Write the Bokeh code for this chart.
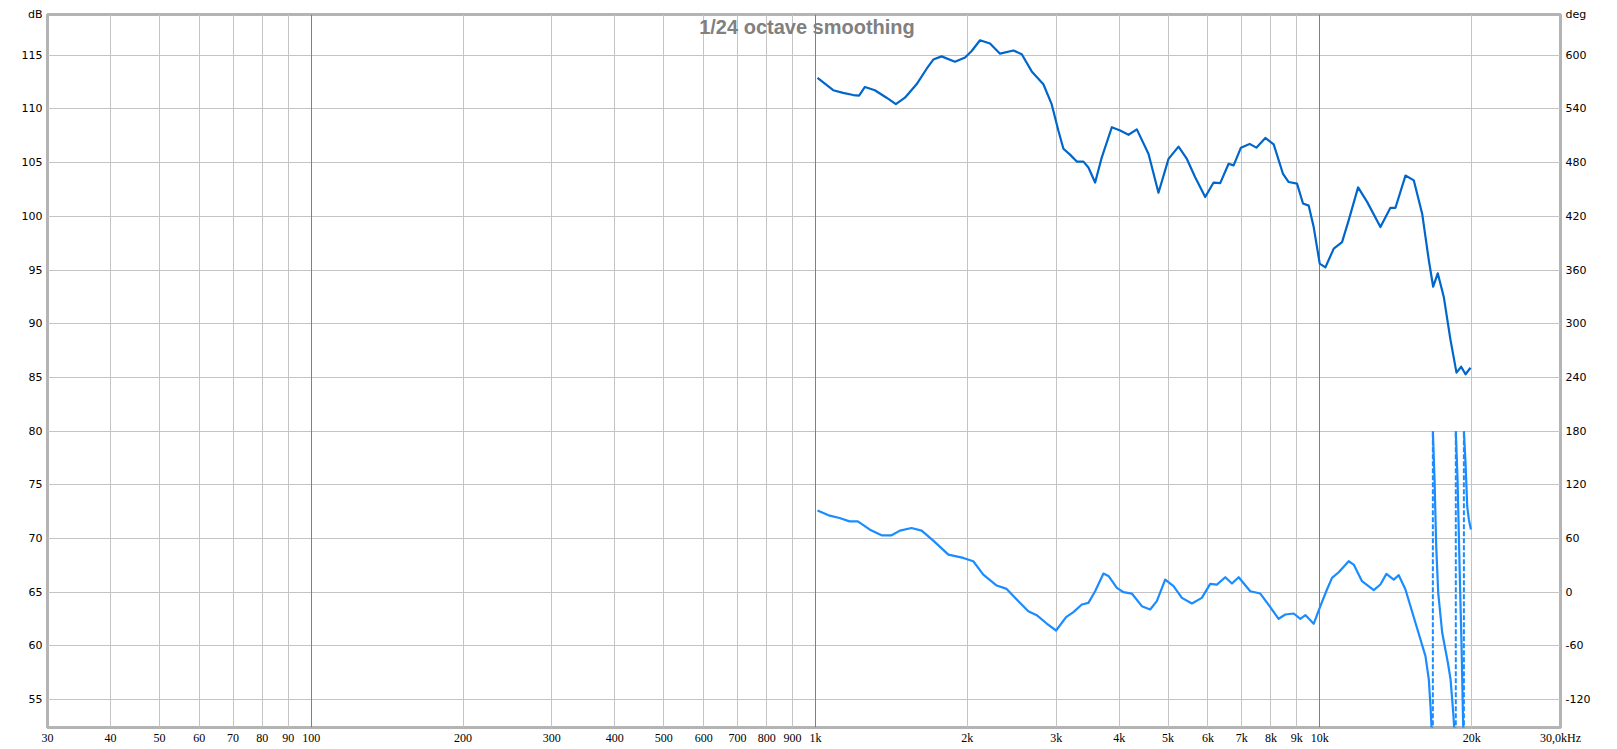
import numpy as np
from bokeh.plotting import figure
from bokeh.models import Range1d, LinearAxis, FixedTicker, Grid, Label
from bokeh.embed import file_html
from bokeh.resources import INLINE

# ---------------- data ----------------
mag_freq = [1009, 1084, 1134, 1188, 1220, 1253, 1311, 1383, 1443, 1504, 1586, 1661, 1712,
            1778, 1890, 1979, 2040, 2119, 2218, 2322, 2468, 2564, 2683, 2830, 2939, 3030,
            3101, 3196, 3296, 3398, 3476, 3584, 3695, 3868, 4018, 4174, 4336, 4574, 4786,
            5011, 5245, 5449, 5659, 5925, 6155, 6345, 6592, 6745, 6974, 7256, 7482, 7796,
            8099, 8452, 8673, 9009, 9259, 9503, 9722, 9993, 10255, 10654, 11066, 11408,
            11906, 12408, 13184, 13801, 14122, 14782, 15357, 15953, 16445, 16775, 17130,
            17607, 18155, 18659, 19063, 19445, 19893]
mag_db = [112.9, 111.75, 111.5, 111.3, 111.25, 112.05, 111.75, 111.05, 110.45, 111.05, 112.3,
          113.75, 114.6, 114.9, 114.4, 114.8, 115.4, 116.4, 116.1, 115.15, 115.45, 115.1,
          113.5, 112.3, 110.45, 108.0, 106.3, 105.75, 105.1, 105.1, 104.55, 103.15, 105.5,
          108.3, 108.0, 107.6, 108.1, 105.8, 102.2, 105.35, 106.5, 105.35, 103.65, 101.8,
          103.15, 103.1, 104.9, 104.75, 106.4, 106.75, 106.4, 107.3, 106.7, 103.95, 103.2,
          103.05, 101.2, 101.0, 99.0, 95.6, 95.25, 97.0, 97.6, 99.65, 102.7, 101.35, 99.0,
          100.8, 100.8, 103.8, 103.35, 100.25, 95.9, 93.45, 94.7, 92.5, 88.5, 85.45, 86.0,
          85.3, 85.9]

phase_freq = [1009, 1067, 1116, 1168, 1213, 1282, 1352, 1415, 1470, 1550, 1623, 1712, 1834,
              1963, 2055, 2151, 2287, 2393, 2525, 2642, 2745, 2873, 2999, 3139, 3246, 3373,
              3476, 3584, 3723, 3815, 3958, 4080, 4238, 4436, 4608, 4750, 4935, 5127, 5326,
              5575, 5834, 6061, 6249, 6493, 6694, 6902, 7278, 7619, 7974, 8283, 8541, 8872,
              9147, 9359, 9721, 10021, 10330, 10570, 10897, 11407, 11671, 12121, 12790,
              13183, 13549, 14012, 14336, 14781, 15470, 16194, 16443, 16570, 16751, 16880,
              17009, 17165, 17481, 17940, 18160, 18383, 18600, 18750, 18950, 19095, 19212,
              19300, 19447, 19596, 19746, 19928]
phase_deg_unwrapped = [91.4, 85.5, 82.9, 79.2, 79.2, 69.9, 63.6, 63.6, 68.8, 71.7, 68.8, 57.6,
                       42.0, 38.3, 34.6, 19.7, 7.4, 3.7, -10.0, -21.2, -25.7, -35.0, -42.8,
                       -27.9, -22.3, -13.8, -11.9, 1.1, 20.8, 17.8, 4.8, 0.0, -1.5, -15.6,
                       -19.3, -10.0, 14.1, 6.7, -6.3, -12.6, -6.3, 9.3, 8.5, 16.7, 9.7, 16.7,
                       1.1, -1.5, -16.7, -29.7, -24.9, -23.8, -29.7, -25.6, -35.3, -15.6, 3.0,
                       16.0, 22.3, 34.6, 30.9, 12.3, 2.3, 8.6, 20.5, 14.1, 19.0, 3.0, -34.2,
                       -71.4, -97.4, -127.0, -180.0, -234.3, -308.7, -360.7, -405.3, -438.8,
                       -457.4, -494.6, -540.0, -594.3, -705.8, -780.0, -854.6, -900.0, -936.0,
                       -984.0, -999.0, -1010.0]

x_ticks = [30, 40, 50, 60, 70, 80, 90, 100, 200, 300, 400, 500, 600, 700, 800, 900,
           1000, 2000, 3000, 4000, 5000, 6000, 7000, 8000, 9000, 10000, 20000, 30000]
x_tick_labels = ["30", "40", "50", "60", "70", "80", "90", "100", "200", "300", "400", "500",
                 "600", "700", "800", "900", "1k", "2k", "3k", "4k", "5k", "6k", "7k", "8k",
                 "9k", "10k", "20k", "30,0kHz"]
x_decade_lines = [100, 1000, 10000]
db_ticks = [55, 60, 65, 70, 75, 80, 85, 90, 95, 100, 105, 110, 115]
deg_ticks = [-120, -60, 0, 60, 120, 180, 240, 300, 360, 420, 480, 540, 600]
title_text = "1/24 octave smoothing"
left_unit = "dB"
right_unit = "deg"

# ---------------- figure ----------------
DB_LO, DB_HI = 52.4, 118.8
F_LO, F_HI = 30, 30000
DEG_LO, DEG_HI = 12.0 * (DB_LO - 65.0), 12.0 * (DB_HI - 65.0)

W, H = 1610, 747
p = figure(width=W, height=H, x_axis_type="log", x_range=(F_LO, F_HI),
           y_range=(DB_LO, DB_HI), output_backend="svg", toolbar_location=None,
           min_border_left=47, min_border_right=W - 1560, min_border_top=14,
           min_border_bottom=H - 727)
p.background_fill_color = "white"
p.border_fill_color = "white"
p.outline_line_color = "#b4b4b4"
p.outline_line_width = 3

p.extra_y_ranges = {"deg": Range1d(DEG_LO, DEG_HI)}
raxis = LinearAxis(y_range_name="deg", ticker=FixedTicker(ticks=deg_ticks + [DEG_HI]))
raxis.major_label_overrides = {**{t: str(t) for t in deg_ticks}, DEG_HI: right_unit}
p.add_layout(raxis, "right")

p.xaxis.ticker = FixedTicker(ticks=x_ticks)
p.xaxis.major_label_overrides = dict(zip(x_ticks, x_tick_labels))
p.yaxis[0].ticker = FixedTicker(ticks=db_ticks + [DB_HI])
p.yaxis[0].major_label_overrides = {**{t: str(t) for t in db_ticks}, DB_HI: left_unit}

for ax in p.xaxis + p.yaxis:
    ax.axis_line_color = None
    ax.major_tick_line_color = None
    ax.minor_tick_line_color = None
    ax.major_tick_in = 0
    ax.major_tick_out = 0
    ax.major_label_text_color = "#000000"
for ax in p.yaxis:
    ax.major_label_text_font = "DejaVu Sans"
    ax.major_label_text_font_size = "11px"
    ax.major_label_standoff = 5
p.xaxis.major_label_text_font = "Liberation Sans Narrow"
p.xaxis.major_label_text_font_size = "12px"
p.xaxis.major_label_standoff = 3

p.xgrid.grid_line_color = "#c4c4c4"
p.ygrid.grid_line_color = "#c4c4c4"
p.ygrid.ticker = FixedTicker(ticks=db_ticks)
p.add_layout(Grid(dimension=0, ticker=FixedTicker(ticks=x_decade_lines),
                  grid_line_color="#808080"))

# magnitude
p.line(mag_freq, mag_db, line_color="#0066cc", line_width=2.2, line_join="round")

# phase: wrap into [-180, 180]
lf = np.log10(np.asarray(phase_freq, float))
u = np.asarray(phase_deg_unwrapped, float)
br = np.floor((u + 180.0) / 360.0)
seg_x = [[phase_freq[0]]]
seg_y = [[u[0] - 360 * br[0]]]
jumps = []
for i in range(1, len(u)):
    b0, b1 = br[i - 1], br[i]
    while b1 != b0:
        down = b1 < b0
        boundary = 360 * (b0 if down else b0 + 1) - 180
        t = (boundary - u[i - 1]) / (u[i] - u[i - 1])
        fc = 10 ** (lf[i - 1] + t * (lf[i] - lf[i - 1]))
        edge = -180.0 if down else 180.0
        seg_x[-1].append(fc)
        seg_y[-1].append(edge)
        jumps.append(fc)
        seg_x.append([fc])
        seg_y.append([-edge])
        b0 += -1 if down else 1
    seg_x[-1].append(phase_freq[i])
    seg_y[-1].append(u[i] - 360 * br[i])

PH_COL = "#1a8cff"
p.multi_line(seg_x, seg_y, line_color=PH_COL, line_width=2.2, line_join="round",
             y_range_name="deg")
p.segment(x0=jumps, y0=[-180] * len(jumps), x1=jumps, y1=[180] * len(jumps),
          line_color=PH_COL, line_width=2, line_dash="5 2", y_range_name="deg")

# title
p.add_layout(Label(x=np.sqrt(F_LO * F_HI), y=DB_HI, x_offset=3, y_offset=-1, text=title_text,
                   text_align="center", text_baseline="top", text_font="Liberation Sans",
                   text_font_size="20px", text_font_style="bold", text_color="#808080"))

open("out.html", "w").write(file_html(p, INLINE))
